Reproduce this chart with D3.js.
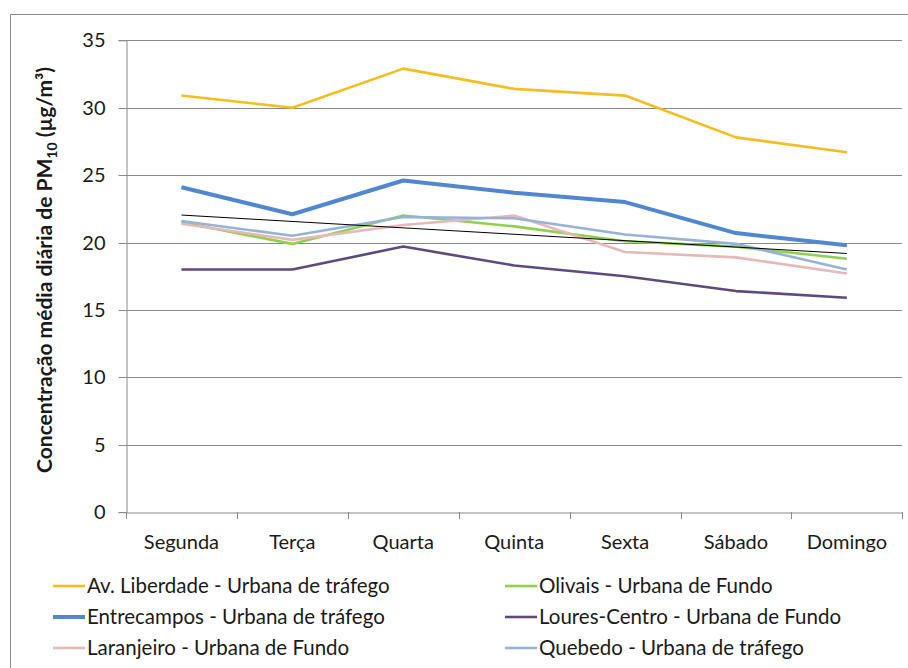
<!DOCTYPE html>
<html>
<head>
<meta charset="utf-8">
<script src="https://cdn.jsdelivr.net/npm/d3@7"></script>
<style>
  html, body { margin: 0; padding: 0; background: #fff; }
  svg { display: block; }
  text { font-family: Lato, "Open Sans", sans-serif; fill: #1a1a1a; }
</style>
</head>
<body>
<svg id="chart" width="908" height="668"></svg>
<script>
const categories = ["Segunda", "Terça", "Quarta", "Quinta", "Sexta", "Sábado", "Domingo"];
const yTicks = [0, 5, 10, 15, 20, 25, 30, 35];

const avLiberdade = [30.9, 30.0, 32.9, 31.4, 30.9, 27.8, 26.7];
const entrecampos = [24.1, 22.1, 24.6, 23.7, 23.0, 20.7, 19.8];
const olivais     = [21.5, 19.9, 22.0, 21.2, 20.1, 19.7, 18.8];
const louresCentro= [18.0, 18.0, 19.7, 18.3, 17.5, 16.4, 15.9];
const laranjeiro  = [21.4, 20.2, 21.3, 22.0, 19.3, 18.9, 17.7];
const quebedo     = [21.6, 20.5, 21.9, 21.8, 20.6, 19.9, 18.0];

const seriesNames = [
  "Av. Liberdade - Urbana de tráfego",
  "Entrecampos - Urbana de tráfego",
  "Laranjeiro - Urbana de Fundo",
  "Olivais - Urbana de Fundo",
  "Loures-Centro - Urbana de Fundo",
  "Quebedo - Urbana de tráfego"
];
const seriesValues = [avLiberdade, entrecampos, laranjeiro, olivais, louresCentro, quebedo];
const seriesColors = ["#F5BD1F", "#4F87D0", "#E6B9B8", "#8FD14F", "#5F4A7E", "#95B3D7"];
const seriesWidths = [2.6, 4, 2.6, 2.6, 2.6, 2.6];
// drawing order (back to front) as in the reference
const drawOrder = [0, 1, 4, 3, 2, 5];

const svg = d3.select("#chart");

// outer frame (left + top visible)
svg.append("path")
  .attr("d", "M10.5,668 V14.5 H908")
  .attr("fill", "none").attr("stroke", "#8c8c8c").attr("stroke-width", 1);

const x = d3.scaleBand().domain(categories).range([126, 902.3]).padding(0);
const y = d3.scaleLinear().domain([0, 35]).range([512.2, 40.3]);

// gridlines
svg.append("g").selectAll("line").data(yTicks.filter(t => t > 0)).join("line")
  .attr("x1", 126).attr("x2", 902)
  .attr("y1", d => Math.round(y(d)) + 0.5).attr("y2", d => Math.round(y(d)) + 0.5)
  .attr("stroke", "#8a8a8a").attr("stroke-width", 1);

// y axis
const yAxis = svg.append("g").attr("transform", "translate(126.5,0)")
  .call(d3.axisLeft(y).tickValues(yTicks).tickSize(8).tickPadding(13).tickFormat(d3.format("d")));
yAxis.select(".domain").attr("stroke", "#8a8a8a");
yAxis.selectAll(".tick line").attr("stroke", "#8a8a8a");
yAxis.selectAll(".tick").attr("transform", d => `translate(0,${Math.round(y(d)) + 0.5})`);
yAxis.selectAll("text").attr("font-size", 20).attr("font-family", "Lato, sans-serif").attr("fill", "#1a1a1a");

// x axis
const xAxis = svg.append("g").attr("transform", `translate(0,${Math.round(y(0)) + 0.5})`)
  .call(d3.axisBottom(x).tickSize(0).tickPadding(22));
xAxis.select(".domain").attr("stroke", "#8a8a8a");
xAxis.selectAll("text").attr("font-size", 20).attr("font-family", "Lato, sans-serif").attr("fill", "#1a1a1a");
// boundary tick marks
const bounds = categories.map(c => x(c)).concat([x.range()[1]]);
svg.append("g").selectAll("line").data(bounds).join("line")
  .attr("x1", d => Math.round(d) + 0.5).attr("x2", d => Math.round(d) + 0.5)
  .attr("y1", Math.round(y(0))).attr("y2", Math.round(y(0)) + 7)
  .attr("stroke", "#8a8a8a");

// y title
svg.append("text")
  .attr("transform", `translate(52,270) rotate(-90)`)
  .attr("text-anchor", "middle").attr("font-size", 21).attr("font-weight", "bold")
  .attr("font-family", "Lato, sans-serif")
  .html('Concentração média  diária de PM<tspan font-size="14" dy="5">10</tspan><tspan dy="-5"> (µg/m³)</tspan>');

// lines
const line = d3.line().x((d, i) => x(categories[i]) + x.bandwidth() / 2).y(d => y(d));
drawOrder.forEach(k => {
  svg.append("path").datum(seriesValues[k])
    .attr("d", line).attr("fill", "none")
    .attr("stroke", seriesColors[k]).attr("stroke-width", seriesWidths[k])
    .attr("stroke-linejoin", "round");
});

// linear trend of Quebedo series
const n = quebedo.length;
const mx = d3.mean(d3.range(n)), my = d3.mean(quebedo);
const slope = d3.sum(quebedo, (v, i) => (i - mx) * (v - my)) / d3.sum(d3.range(n), i => (i - mx) ** 2);
const trend = d3.range(n).filter(i => i === 0 || i === n - 1).map(i => ({i, v: my + slope * (i - mx)}));
svg.append("path").datum(trend)
  .attr("d", d3.line().x(d => x(categories[d.i]) + x.bandwidth() / 2).y(d => y(d.v)))
  .attr("fill", "none").attr("stroke", "#000").attr("stroke-width", 1);

// legend
const legCols = [53, 505];
const legRows = [586, 617, 648];
const leg = svg.append("g");
seriesNames.forEach((name, k) => {
  const col = Math.floor(k / 3), row = k % 3;
  const lx = legCols[col], ly = legRows[row];
  leg.append("line").attr("x1", lx).attr("x2", lx + 32).attr("y1", ly).attr("y2", ly)
    .attr("stroke", seriesColors[k]).attr("stroke-width", seriesWidths[k]);
  leg.append("text").attr("x", lx + 34).attr("y", ly + 7)
    .attr("font-size", 20.5).text(name);
});
</script>
</body>
</html>
